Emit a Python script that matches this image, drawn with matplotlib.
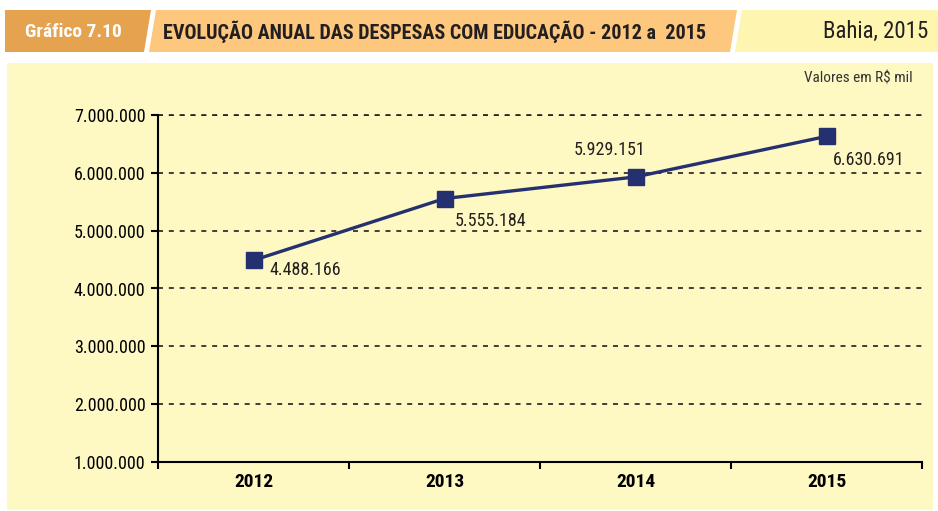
import matplotlib.pyplot as plt
from matplotlib import font_manager
from matplotlib.patches import Polygon, Rectangle
from matplotlib.ticker import FuncFormatter

# fonte estreita, se existir
nomes = {f.name for f in font_manager.fontManager.ttflist}
fonte = 'Roboto'
for cand in ['Liberation Sans Narrow', 'DejaVu Sans Condensed', 'Roboto Condensed', 'Open Sans Condensed',
             'Noto Sans Condensed']:
    if cand in nomes:
        fonte = cand
        break
plt.rcParams['font.family'] = [fonte, 'DejaVu Sans']

anos = ['2012', '2013', '2014', '2015']
despesas = [4488166, 5555184, 5929151, 6630691]
rotulos = ['4.488.166', '5.555.184', '5.929.151', '6.630.691']
# deslocamento dos rótulos em pixels (dx, dy, alinhamento)
desloc = [(16, -10, 'left'), (10, -22, 'left'), (-26, 27, 'center'), (6, -24, 'left')]

W, H = 938, 511
fig = plt.figure(figsize=(W / 100, H / 100), dpi=100)
fig.patch.set_facecolor('white')


def px(x, y):
    return (x / W, 1 - y / H)


# cabeçalho
for pts, cor in [
    ([(5, 10), (151, 10), (144, 52), (5, 52)], '#E5A24F'),
    ([(156, 10), (737, 10), (730, 52), (149, 52)], '#FDC77D'),
    ([(742, 10), (938, 10), (938, 52), (735, 52)], '#FEF5B0'),
]:
    fig.patches.append(Polygon([px(*p) for p in pts], closed=True, transform=fig.transFigure,
                               facecolor=cor, edgecolor='none', zorder=-2))

fig.text(*px(25, 32), 'Gráfico 7.10', color='white', fontsize=14, fontweight='bold', va='center')
fig.text(*px(163, 32), 'EVOLUÇÃO ANUAL DAS DESPESAS COM EDUCAÇÃO - 2012 a  2015', color='#231F20',
         fontsize=14.5, fontweight='bold', va='center')
fig.text(*px(928, 31), 'Bahia, 2015', color='#231F20', fontsize=16.5, ha='right', va='center')

# painel do gráfico
x0, y0 = px(7, 510)
x1, y1 = px(933, 63)
fig.patches.append(Rectangle((x0, y0), x1 - x0, y1 - y0, transform=fig.transFigure,
                             facecolor='#FEF8C3', edgecolor='none', zorder=-2))
fig.text(*px(913, 78), 'Valores em R$ mil', color='#333333', fontsize=11, ha='right', va='center')

l, r = 158 / W, 922 / W
b, t = 1 - 462 / H, 1 - 115 / H
ax = fig.add_axes([l, b, r - l, t - b])
ax.set_facecolor('none')

xs = range(len(anos))
ax.plot(xs, despesas, color='#243070', linewidth=2.4, marker='s', markersize=12, zorder=3)

for x, v, txt, (dx, dy, ha) in zip(xs, despesas, rotulos, desloc):
    ax.annotate(txt, (x, v), xytext=(dx, dy), textcoords='offset pixels', ha=ha, va='center',
                fontsize=13, color='#231F20')

ax.set_xlim(-0.5, 3.5)
ax.set_ylim(1e6, 7e6)
ax.set_yticks(range(1000000, 7000001, 1000000))
ax.yaxis.set_major_formatter(FuncFormatter(lambda v, p: f'{int(v):,}'.replace(',', '.')))
ax.set_xticks([-0.5, 0.5, 1.5, 2.5, 3.5])
ax.set_xticklabels([])
ax.set_xticks(list(xs), minor=True)
ax.set_xticklabels(anos, minor=True, fontweight='bold', fontsize=14)
ax.tick_params(axis='x', which='minor', length=0, pad=8)
ax.tick_params(axis='x', which='major', length=5, width=1.5, direction='out')
ax.tick_params(axis='y', length=5, width=1.5, direction='out', labelsize=13, pad=4)

for s in ['top', 'right']:
    ax.spines[s].set_visible(False)
for s in ['left', 'bottom']:
    ax.spines[s].set_linewidth(1.5)

ax.yaxis.grid(True, color='#231F20', linestyle=(0, (3, 3.5)), linewidth=1.2)
ax.set_axisbelow(True)
# linha de grade no topo (7.000.000)
ax.axhline(7e6, color='#231F20', linestyle=(0, (3, 3.5)), linewidth=1.2, clip_on=False)

fig.savefig('out.png', dpi=100)
